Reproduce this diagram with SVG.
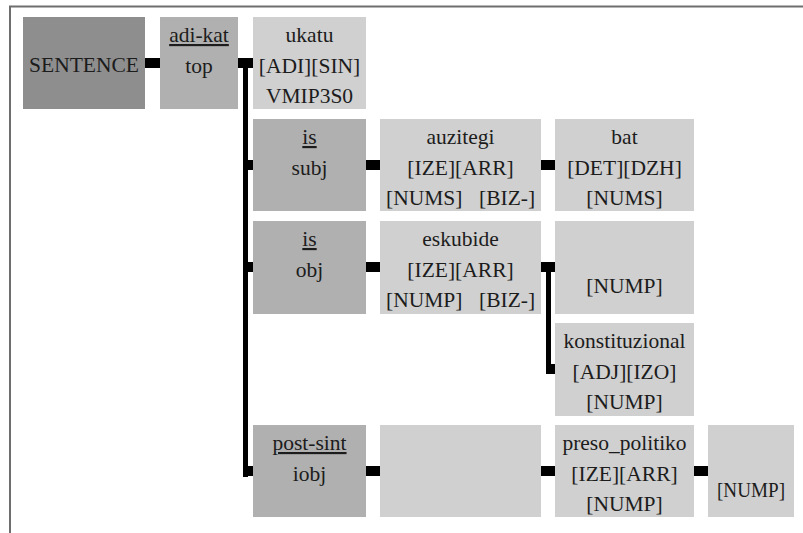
<svg xmlns="http://www.w3.org/2000/svg" width="803" height="533" viewBox="0 0 803 533">
<style>
.frame{fill:none;stroke:#6e6e6e;stroke-width:2}
.root{fill:#8e8e8e}
.lab{fill:#b0b0b0}
.word{fill:#d0d0d0}
text{font-family:'Liberation Serif','Times New Roman',serif;font-size:21.5px;fill:#1c1c1c;text-anchor:middle}
text.l{text-anchor:start}
.u{text-decoration:underline}
.c{fill:#000}
</style>
<rect width="803" height="533" fill="#fff"/>
<path class="frame" d="M10,533 V6.5 H803"/>

<g id="connectors">
  <rect class="c" x="145" y="58" width="15" height="10"/>
  <rect class="c" x="238" y="58" width="15" height="10"/>
  <rect class="c" x="243" y="58" width="5" height="419"/>
  <rect class="c" x="243" y="160" width="10" height="10"/>
  <rect class="c" x="243" y="262" width="10" height="10"/>
  <rect class="c" x="243" y="466" width="10" height="10"/>
  <rect class="c" x="366" y="160" width="14" height="10"/>
  <rect class="c" x="541" y="160" width="14" height="10"/>
  <rect class="c" x="366" y="262" width="14" height="10"/>
  <rect class="c" x="541" y="262" width="14" height="10"/>
  <rect class="c" x="546" y="262" width="5" height="112"/>
  <rect class="c" x="546" y="364" width="9" height="10"/>
  <rect class="c" x="366" y="466" width="14" height="10"/>
  <rect class="c" x="541" y="466" width="14" height="10"/>
  <rect class="c" x="694" y="466" width="14" height="10"/>
</g>

<g id="sentence">
  <rect class="root" x="23" y="17" width="122" height="92"/>
  <text x="84" y="72">SENTENCE</text>
</g>
<g id="adi-kat">
  <rect class="lab" x="160" y="17" width="78" height="92"/>
  <text class="u" x="199" y="42">adi-kat</text>
  <text x="199" y="73">top</text>
</g>
<g id="ukatu">
  <rect class="word" x="253" y="17" width="113" height="92"/>
  <text x="309.5" y="42">ukatu</text>
  <text x="309.5" y="73">[ADI][SIN]</text>
  <text x="309.5" y="103">VMIP3S0</text>
</g>

<g id="is-subj">
  <rect class="lab" x="253" y="119" width="113" height="92"/>
  <text class="u" x="309.5" y="144">is</text>
  <text x="309.5" y="175">subj</text>
</g>
<g id="auzitegi">
  <rect class="word" x="380" y="119" width="161" height="92"/>
  <text x="460.5" y="144">auzitegi</text>
  <text x="460.5" y="175">[IZE][ARR]</text>
  <text class="l" x="386" y="205">[NUMS]</text>
  <text class="l" x="479" y="205">[BIZ-]</text>
</g>
<g id="bat">
  <rect class="word" x="555" y="119" width="139" height="92"/>
  <text x="624.5" y="144">bat</text>
  <text x="624.5" y="175">[DET][DZH]</text>
  <text x="624.5" y="205">[NUMS]</text>
</g>

<g id="is-obj">
  <rect class="lab" x="253" y="221" width="113" height="93"/>
  <text class="u" x="309.5" y="246">is</text>
  <text x="309.5" y="277">obj</text>
</g>
<g id="eskubide">
  <rect class="word" x="380" y="221" width="161" height="93"/>
  <text x="460.5" y="246">eskubide</text>
  <text x="460.5" y="277">[IZE][ARR]</text>
  <text class="l" x="386" y="307">[NUMP]</text>
  <text class="l" x="479" y="307">[BIZ-]</text>
</g>
<g id="nump-obj">
  <rect class="word" x="555" y="221" width="139" height="93"/>
  <text x="624.5" y="293">[NUMP]</text>
</g>

<g id="konstituzional">
  <rect class="word" x="555" y="323" width="139" height="93"/>
  <text x="624.5" y="348">konstituzional</text>
  <text x="624.5" y="379">[ADJ][IZO]</text>
  <text x="624.5" y="409">[NUMP]</text>
</g>

<g id="post-sint">
  <rect class="lab" x="253" y="425" width="113" height="92"/>
  <text class="u" x="309.5" y="450">post-sint</text>
  <text x="309.5" y="481">iobj</text>
</g>
<g id="empty-iobj">
  <rect class="word" x="380" y="425" width="161" height="92"/>
</g>
<g id="preso_politiko">
  <rect class="word" x="555" y="425" width="139" height="92"/>
  <text x="624.5" y="450">preso_politiko</text>
  <text x="624.5" y="481">[IZE][ARR]</text>
  <text x="624.5" y="511">[NUMP]</text>
</g>
<g id="nump-iobj">
  <rect class="word" x="708" y="425" width="86" height="92"/>
  <text x="751" y="497" textLength="68" lengthAdjust="spacingAndGlyphs">[NUMP]</text>
</g>
</svg>
